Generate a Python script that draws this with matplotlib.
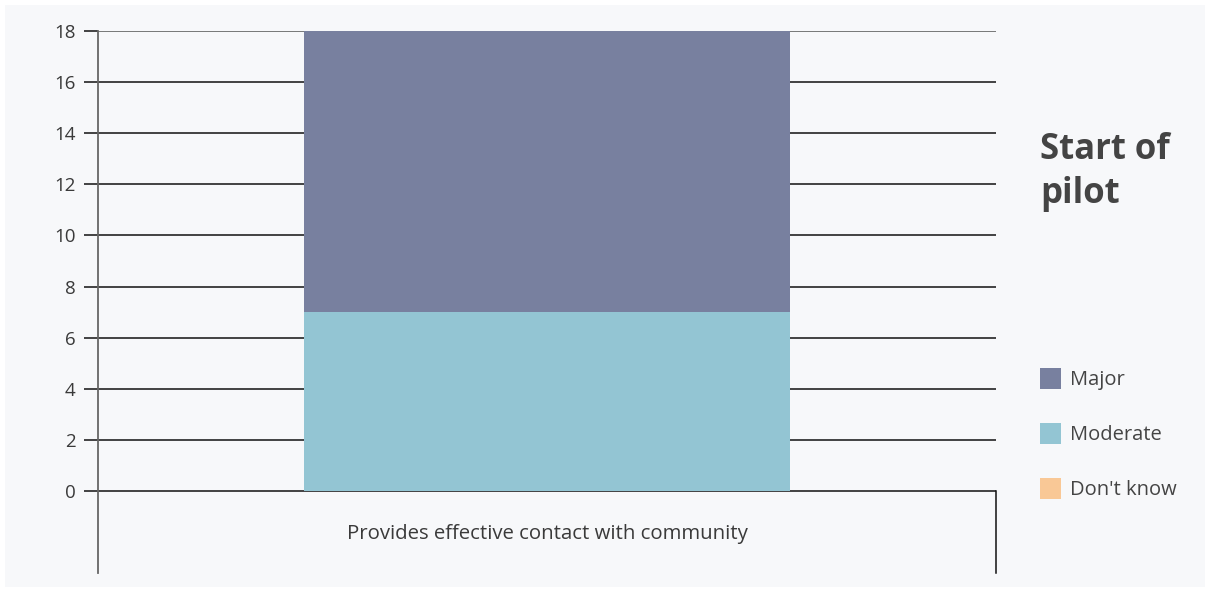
import matplotlib.pyplot as plt
from matplotlib.patches import Rectangle

plt.rcParams['font.family'] = ['Open Sans', 'DejaVu Sans']

categories = ["Provides effective contact with community"]
series_names = ["Major", "Moderate", "Don't know"]
moderate = [7]
major = [11]
dont_know = [0]
colors = {"Major": "#78809f", "Moderate": "#93c5d3", "Don't know": "#f9c896"}
yticks = [0, 2, 4, 6, 8, 10, 12, 14, 16, 18]
title = "Start of\npilot"

W, H = 1210, 590
fig = plt.figure(figsize=(W / 100, H / 100), dpi=100)
fig.patch.set_facecolor("white")
fig.patches.append(Rectangle((5 / W, 3 / H), 1200 / W, 582 / H, transform=fig.transFigure,
                             facecolor="#f7f8fa", edgecolor="none", zorder=-5))

# plot area: y=18 at px 31, y=0 at px 491, bottom of category band at px 573
ymin = -82 / (460 / 18)
ax = fig.add_axes([98 / W, (H - 573) / H, 898 / W, 542 / H])
ax.set_facecolor("none")
ax.set_xlim(-0.5, 0.5)
ax.set_ylim(ymin, 18)

x = range(len(categories))
bw = 486 / 898
ax.bar(x, moderate, width=bw, color=colors["Moderate"], zorder=2)
ax.bar(x, major, width=bw, bottom=moderate, color=colors["Major"], zorder=2)
bottom2 = [a + b for a, b in zip(moderate, major)]
ax.bar(x, dont_know, width=bw, bottom=bottom2, color=colors["Don't know"], zorder=2)

for t in yticks:
    ax.axhline(t, color="#111111" if t < 18 else "#555555", lw=1.1, zorder=1)

for s in ["top", "bottom", "right"]:
    ax.spines[s].set_visible(False)
ax.spines["left"].set_color("#666666")
ax.spines["left"].set_linewidth(1.3)
ax.plot([1, 1], [ymin, 0], transform=ax.get_yaxis_transform(), color="#111111",
        lw=1.1, clip_on=False)

ax.set_yticks(yticks)
ax.set_xticks([])
ax.tick_params(axis="y", length=10, width=1.1, color="#111111", labelsize=13.5,
               labelcolor="#3a3a3a", pad=6)

for i, c in enumerate(categories):
    ax.text(i, ymin / 2 - 0.08, c, ha="center", va="center", fontsize=14.7, color="#3a3a3a")

fig.text(1040 / W, 1 - 172 / H, title, fontsize=25, fontweight="bold", color="#444444",
         ha="left", va="center", linespacing=1.3)

leg_y = [380, 435, 490]
for name, yy in zip(series_names, leg_y):
    fig.patches.append(Rectangle((1040 / W, 1 - (yy + 9) / H), 21 / W, 21 / H,
                                 transform=fig.transFigure, facecolor=colors[name],
                                 edgecolor="none"))
    fig.text(1070 / W, 1 - yy / H, name, fontsize=14.5, color="#444444",
             ha="left", va="center")

fig.savefig("out.png", dpi=100, facecolor=fig.get_facecolor())
